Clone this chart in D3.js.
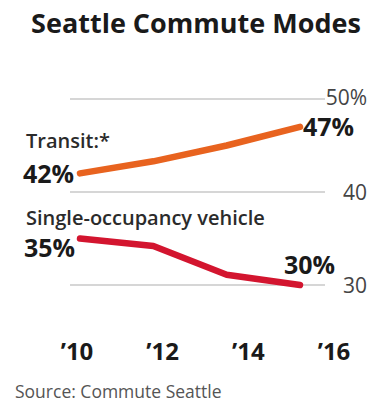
<!DOCTYPE html>
<html>
<head>
<meta charset="utf-8">
<script src="https://cdn.jsdelivr.net/npm/d3@7"></script>
<style>
  body { margin: 0; background: #fff; }
  text { font-family: "Open Sans", "Noto Sans", sans-serif; }
</style>
</head>
<body>
<svg id="chart" width="374" height="404"></svg>
<script>
// data
const years = [2010, 2012, 2014, 2016];
const yearLabels = ['\u201910', '\u201912', '\u201914', '\u201916'];
const transit = [42, 43.3, 45, 47];
const singleOccupancy = [35, 34.2, 31.1, 30];
const gridValues = [50, 40, 30];
const gridLabels = ['50%', '40', '30'];

const svg = d3.select('#chart');

// scales
const x = d3.scalePoint().domain(years).range([80, 300]);
const xLabel = d3.scalePoint().domain(years).range([77, 334]);
const y = d3.scaleLinear().domain([30, 50]).range([285, 99]);

// title
svg.append('text')
  .attr('x', 196)
  .attr('y', 33)
  .attr('text-anchor', 'middle')
  .style('font-size', '27px')
  .style('font-weight', 700)
  .style('fill', '#1a1a1a')
  .text('Seattle Commute Modes');

// grid lines
svg.append('g')
  .selectAll('line')
  .data(gridValues)
  .enter()
  .append('line')
  .attr('x1', 70)
  .attr('x2', 325)
  .attr('y1', d => y(d))
  .attr('y2', d => y(d))
  .style('stroke', '#c9c9c9')
  .style('stroke-width', 1.5);

// right axis labels
svg.append('g')
  .selectAll('text')
  .data(gridValues)
  .enter()
  .append('text')
  .attr('x', 367)
  .attr('y', d => y(d))
  .attr('dy', d => d === 50 ? '0.3em' : '0.36em')
  .attr('text-anchor', 'end')
  .style('font-size', '21px')
  .style('fill', '#444')
  .text((d, i) => gridLabels[i]);

// lines
const line = d3.line()
  .x((d, i) => x(years[i]))
  .y(d => y(d));

svg.append('path')
  .datum(transit)
  .attr('d', line)
  .style('fill', 'none')
  .style('stroke', '#e8631f')
  .style('stroke-width', 6.5)
  .style('stroke-linejoin', 'round')
  .style('stroke-linecap', 'round');

svg.append('path')
  .datum(singleOccupancy)
  .attr('d', line)
  .style('fill', 'none')
  .style('stroke', '#d3152f')
  .style('stroke-width', 6.5)
  .style('stroke-linejoin', 'round')
  .style('stroke-linecap', 'round');

// series names
const names = svg.append('g')
  .style('font-size', '20px')
  .style('font-weight', 600)
  .style('fill', '#2b2b2b');
names.append('text').attr('x', 26).attr('y', 148).text('Transit:*');
names.append('text').attr('x', 26).attr('y', 225).text('Single-occupancy vehicle');

// value labels
const n = years.length - 1;
const valueLabels = [
  { v: transit[0], x: x(years[0]) - 6, y: y(transit[0]) + 10, anchor: 'end' },
  { v: transit[n], x: x(years[n]) + 3, y: y(transit[n]) + 9, anchor: 'start' },
  { v: singleOccupancy[0], x: x(years[0]) - 5, y: y(singleOccupancy[0]) + 18, anchor: 'end' },
  { v: singleOccupancy[n], x: x(years[n]) + 35, y: y(singleOccupancy[n]) - 11, anchor: 'end' }
];
svg.append('g')
  .selectAll('text')
  .data(valueLabels)
  .enter()
  .append('text')
  .attr('x', d => d.x)
  .attr('y', d => d.y)
  .attr('text-anchor', d => d.anchor)
  .style('font-size', '25px')
  .style('font-weight', 700)
  .style('fill', '#1a1a1a')
  .text(d => Math.round(d.v) + '%');

// x axis labels
svg.append('g')
  .selectAll('text')
  .data(years)
  .enter()
  .append('text')
  .attr('x', d => xLabel(d))
  .attr('y', 360)
  .attr('text-anchor', 'middle')
  .style('font-size', '24px')
  .style('font-weight', 700)
  .style('fill', '#1a1a1a')
  .text((d, i) => yearLabels[i]);

// source
svg.append('text')
  .attr('x', 15)
  .attr('y', 398)
  .style('font-size', '17.5px')
  .style('fill', '#555')
  .text('Source: Commute Seattle');
</script>
</body>
</html>
